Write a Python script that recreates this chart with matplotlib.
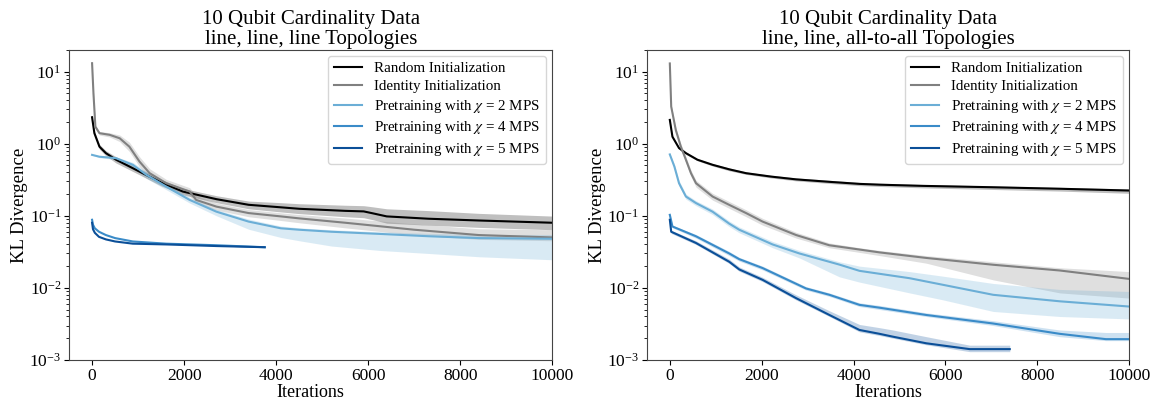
import matplotlib
matplotlib.use("Agg")
import matplotlib.pyplot as plt

plt.rcParams['font.family'] = ['Liberation Serif', 'DejaVu Serif']
plt.rcParams['mathtext.fontset'] = 'stix'

labels = ["Random Initialization", "Identity Initialization",
          r"Pretraining with $\chi$ = 2 MPS", r"Pretraining with $\chi$ = 4 MPS",
          r"Pretraining with $\chi$ = 5 MPS"]
colors = ["black", "#808080", "#6baed6", "#3a8bc8", "#0b4f98"]
titles = ["10 Qubit Cardinality Data\nline, line, line Topologies",
          "10 Qubit Cardinality Data\nline, line, all-to-all Topologies"]

# ---- left panel: line, line, line ----
L_rand_x = [0, 50, 160, 300, 520, 1030, 1500, 1970, 2700, 3400, 4100, 4500, 5500, 5900, 6100, 6400, 7300, 8400, 10000]
L_rand_y = [2.33, 1.4, 0.91, 0.74, 0.60, 0.41, 0.29, 0.217, 0.17, 0.142, 0.131, 0.125, 0.117, 0.115, 0.108, 0.098, 0.091, 0.086, 0.080]
L_rand_lo = [2.2, 1.3, 0.84, 0.68, 0.54, 0.37, 0.26, 0.195, 0.152, 0.125, 0.113, 0.107, 0.097, 0.094, 0.088, 0.079, 0.074, 0.069, 0.064]
L_rand_hi = [2.45, 1.5, 0.98, 0.80, 0.66, 0.45, 0.32, 0.24, 0.19, 0.16, 0.152, 0.147, 0.14, 0.138, 0.133, 0.125, 0.118, 0.108, 0.099]

L_iden_x = [0, 30, 72, 160, 380, 600, 810, 1030, 1250, 1610, 2120, 2260, 2700, 3400, 4100, 4500, 5500, 7000, 8400, 10000]
L_iden_y = [13.1, 5.0, 1.72, 1.4, 1.33, 1.19, 0.91, 0.565, 0.39, 0.283, 0.217, 0.166, 0.134, 0.109, 0.098, 0.092, 0.080, 0.064, 0.054, 0.050]
L_iden_lo = [12.8, 4.7, 1.62, 1.32, 1.24, 1.07, 0.78, 0.48, 0.34, 0.25, 0.19, 0.15, 0.12, 0.097, 0.086, 0.080, 0.068, 0.054, 0.047, 0.045]
L_iden_hi = [13.4, 5.3, 1.82, 1.48, 1.42, 1.32, 1.05, 0.66, 0.45, 0.32, 0.245, 0.19, 0.15, 0.122, 0.11, 0.104, 0.093, 0.077, 0.066, 0.064]

L_chi2_x = [0, 160, 520, 885, 1180, 1610, 2120, 2700, 3400, 4100, 4500, 5200, 6250, 7300, 8400, 10000]
L_chi2_y = [0.70, 0.66, 0.63, 0.51, 0.37, 0.254, 0.166, 0.114, 0.083, 0.067, 0.064, 0.060, 0.056, 0.052, 0.049, 0.048]
L_chi2_lo = [0.69, 0.64, 0.60, 0.47, 0.33, 0.23, 0.15, 0.10, 0.065, 0.050, 0.045, 0.038, 0.033, 0.030, 0.027, 0.0245]
L_chi2_hi = [0.71, 0.68, 0.66, 0.55, 0.41, 0.28, 0.18, 0.122, 0.090, 0.072, 0.068, 0.064, 0.060, 0.057, 0.055, 0.055]

L_chi4_x = [0, 20, 60, 150, 300, 500, 885, 1610, 2700, 3750]
L_chi4_y = [0.088, 0.075, 0.067, 0.060, 0.054, 0.049, 0.044, 0.041, 0.039, 0.0366]
L_chi5_x = [0, 20, 60, 150, 300, 500, 885, 1610, 2700, 3750]
L_chi5_y = [0.080, 0.065, 0.058, 0.051, 0.047, 0.044, 0.041, 0.040, 0.038, 0.0366]

# ---- right panel: line, line, all-to-all ----
R_rand_x = [0, 57, 200, 350, 600, 930, 1300, 1660, 2200, 2750, 3500, 4130, 4570, 5500, 7000, 8500, 10000]
R_rand_y = [2.14, 1.25, 0.87, 0.74, 0.60, 0.51, 0.44, 0.39, 0.35, 0.32, 0.295, 0.277, 0.27, 0.26, 0.249, 0.237, 0.224]
R_rand_lo = [2.08, 1.2, 0.84, 0.71, 0.58, 0.49, 0.42, 0.375, 0.335, 0.305, 0.28, 0.262, 0.255, 0.244, 0.232, 0.22, 0.205]
R_rand_hi = [2.2, 1.3, 0.90, 0.77, 0.62, 0.53, 0.46, 0.405, 0.365, 0.335, 0.31, 0.29, 0.283, 0.272, 0.26, 0.248, 0.236]

R_iden_x = [0, 30, 130, 240, 350, 460, 570, 930, 1290, 1660, 2020, 2750, 3470, 4130, 4570, 5580, 7040, 8490, 10000]
R_iden_y = [13.0, 3.27, 1.55, 0.91, 0.60, 0.39, 0.283, 0.185, 0.142, 0.109, 0.083, 0.054, 0.039, 0.034, 0.031, 0.026, 0.0209, 0.0174, 0.0133]
R_iden_lo = [12.7, 3.0, 1.42, 0.83, 0.54, 0.35, 0.25, 0.165, 0.127, 0.097, 0.074, 0.049, 0.036, 0.031, 0.028, 0.022, 0.0129, 0.0085, 0.0072]
R_iden_hi = [13.3, 3.5, 1.68, 1.0, 0.66, 0.43, 0.31, 0.205, 0.158, 0.121, 0.092, 0.059, 0.042, 0.036, 0.033, 0.028, 0.023, 0.019, 0.0168]

R_chi2_x = [0, 100, 200, 350, 570, 930, 1290, 1511, 2237, 2820, 3692, 4130, 5220, 5950, 7040, 8490, 10000]
R_chi2_y = [0.71, 0.48, 0.283, 0.185, 0.15, 0.114, 0.078, 0.064, 0.040, 0.030, 0.021, 0.0172, 0.0136, 0.011, 0.008, 0.0065, 0.0055]
R_chi2_lo = [0.69, 0.44, 0.26, 0.17, 0.138, 0.104, 0.071, 0.058, 0.036, 0.026, 0.0142, 0.012, 0.0085, 0.0068, 0.0047, 0.0040, 0.0037]
R_chi2_hi = [0.73, 0.52, 0.31, 0.20, 0.162, 0.124, 0.085, 0.070, 0.044, 0.033, 0.023, 0.020, 0.0168, 0.0145, 0.0115, 0.0095, 0.0089]

R_chi4_x = [0, 57, 567, 1293, 1511, 2020, 2965, 3474, 4129, 4565, 5582, 7035, 8488, 9494, 10000]
R_chi4_y = [0.103, 0.071, 0.052, 0.030, 0.025, 0.0188, 0.0098, 0.008, 0.0058, 0.0053, 0.0042, 0.0032, 0.0023, 0.00194, 0.00194]
R_chi4_lo = [0.1, 0.068, 0.049, 0.028, 0.0235, 0.0177, 0.0093, 0.0076, 0.0055, 0.005, 0.004, 0.0030, 0.0021, 0.00185, 0.00185]
R_chi4_hi = [0.106, 0.074, 0.055, 0.032, 0.0265, 0.020, 0.0104, 0.0085, 0.0062, 0.0057, 0.0045, 0.0035, 0.0026, 0.0024, 0.0024]

R_chi5_x = [0, 30, 567, 1293, 1511, 2020, 2747, 3474, 4129, 4565, 4855, 5582, 6529, 7401]
R_chi5_y = [0.088, 0.060, 0.042, 0.023, 0.018, 0.0129, 0.0072, 0.0042, 0.0026, 0.0023, 0.0021, 0.0017, 0.00141, 0.00141]
R_chi5_lo = [0.085, 0.057, 0.040, 0.0218, 0.017, 0.0122, 0.0068, 0.004, 0.00245, 0.00218, 0.002, 0.00162, 0.0013, 0.0013]
R_chi5_hi = [0.092, 0.063, 0.045, 0.025, 0.0195, 0.014, 0.008, 0.0048, 0.0031, 0.0028, 0.0026, 0.0021, 0.0016, 0.0016]

left = [(L_rand_x, L_rand_y, L_rand_lo, L_rand_hi),
        (L_iden_x, L_iden_y, L_iden_lo, L_iden_hi),
        (L_chi2_x, L_chi2_y, L_chi2_lo, L_chi2_hi),
        (L_chi4_x, L_chi4_y, None, None),
        (L_chi5_x, L_chi5_y, None, None)]
right = [(R_rand_x, R_rand_y, R_rand_lo, R_rand_hi),
         (R_iden_x, R_iden_y, R_iden_lo, R_iden_hi),
         (R_chi2_x, R_chi2_y, R_chi2_lo, R_chi2_hi),
         (R_chi4_x, R_chi4_y, R_chi4_lo, R_chi4_hi),
         (R_chi5_x, R_chi5_y, R_chi5_lo, R_chi5_hi)]

fig = plt.figure(figsize=(11.51, 4.03), dpi=100)
ax1 = fig.add_axes([0.060, 0.107, 0.420, 0.769])
ax2 = fig.add_axes([0.562, 0.107, 0.419, 0.769])

for ax, series, title in [(ax1, left, titles[0]), (ax2, right, titles[1])]:
    for (x, y, lo, hi), c, lab in zip(series, colors, labels):
        if lo is not None:
            ax.fill_between(x, lo, hi, color=c, alpha=0.25, linewidth=0)
        ax.plot(x, y, color=c, lw=1.5, label=lab)
    ax.set_yscale("log")
    ax.set_ylim(1e-3, 20)
    ax.set_xlim(-500, 10000)
    ax.set_xticks([0, 2000, 4000, 6000, 8000, 10000])
    ax.set_xlabel("Iterations", fontsize=13, labelpad=0)
    ax.set_ylabel("KL Divergence", fontsize=13.5, labelpad=1)
    ax.set_title(title, fontsize=15, linespacing=1.1, pad=4)
    ax.tick_params(labelsize=12.5, pad=2)
    ax.legend(loc="upper right", fontsize=10.8, handlelength=1.9, labelspacing=0.3,
              borderaxespad=0.4)
    for sp in ax.spines.values():
        sp.set_color("#444444")

fig.savefig("out.png", dpi=100)
